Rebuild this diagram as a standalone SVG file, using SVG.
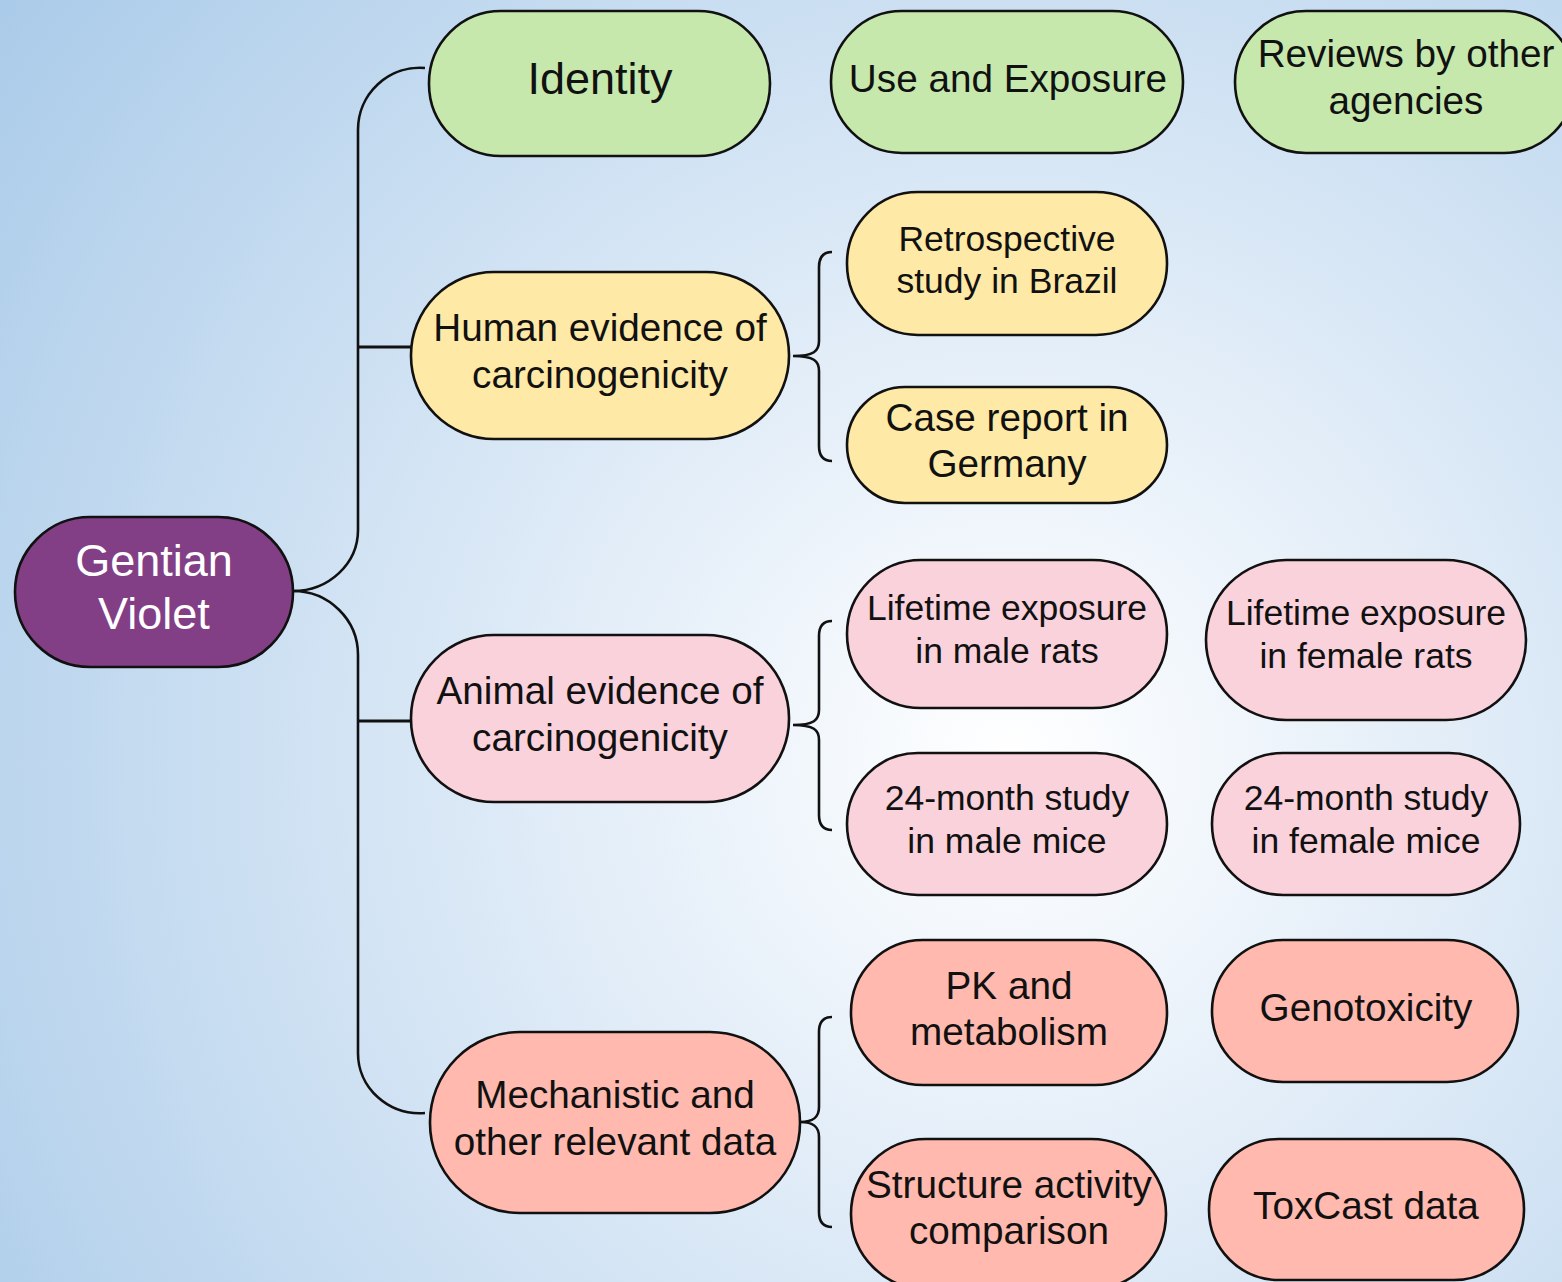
<svg xmlns="http://www.w3.org/2000/svg" width="1562" height="1282" viewBox="0 0 1562 1282">
<defs>
<radialGradient id="bg" gradientUnits="userSpaceOnUse" cx="1010" cy="760" r="1260">
<stop offset="0" stop-color="#ffffff"/>
<stop offset="0.35" stop-color="#e2edf8"/>
<stop offset="1" stop-color="#aacbe9"/>
</radialGradient>
<style>
.n{stroke:#111;stroke-width:2.6}
.g{fill:#c6e8ad}.y{fill:#ffe9a6}.p{fill:#fad2dc}.s{fill:#ffb9ae}.v{fill:#823f86}
text{font-family:"Liberation Sans",Arial,sans-serif;text-anchor:middle;fill:#111}
.t44{font-size:45px}.t38{font-size:38.7px}.t35{font-size:35.5px}.t34{font-size:35.5px}
.w{fill:#ffffff}
.c{fill:none;stroke:#111;stroke-width:2.6}
.b{fill:none;stroke:#111;stroke-width:3.2}
</style>
</defs>
<rect width="1562" height="1282" fill="url(#bg)"/>
<g id="connectors">
<path class="c" d="M293,591 A65,61 0 0 0 358,530 L358,130 A62,62 0 0 1 425,68"/>
<path class="c" d="M293,591 A65,64 0 0 1 358,655 L358,1053 A62,60 0 0 0 425,1113"/>
<path class="b" d="M358,347 L412,347"/>
<path class="b" d="M358,721 L412,721"/>
<path class="c" d="M832,252 C823,252 819,257 819,267 L819,341 C819,351 814,356 793,356 C814,356 819,361 819,371 L819,446 C819,456 823,461 832,461"/>
<path class="c" d="M832,621 C823,621 819,626 819,636 L819,710 C819,720 814,725 793,725 C814,725 819,730 819,740 L819,815 C819,825 823,830 832,830"/>
<path class="c" d="M832,1017 C823,1017 819,1022 819,1032 L819,1107 C819,1117 814,1122 800,1122 C814,1122 819,1127 819,1137 L819,1212 C819,1222 823,1227 832,1227"/>
</g>
<g id="gentian">
<rect class="n v" x="15" y="517" width="278" height="150" rx="75"/>
<text class="t44 w" x="154" y="576">Gentian</text>
<text class="t44 w" x="154" y="629">Violet</text>
</g>
<g id="identity">
<rect class="n g" x="429" y="11" width="341" height="145" rx="72"/>
<text class="t44" x="600" y="94">Identity</text>
</g>
<g id="use-exposure">
<rect class="n g" x="831" y="11" width="352" height="142" rx="71"/>
<text class="t38" x="1008" y="92">Use and Exposure</text>
</g>
<g id="reviews">
<rect class="n g" x="1235" y="11" width="340" height="142" rx="71"/>
<text class="t38" x="1406" y="67">Reviews by other</text>
<text class="t38" x="1406" y="114">agencies</text>
</g>
<g id="human">
<rect class="n y" x="411" y="272" width="378" height="167" rx="83"/>
<text class="t38" x="600" y="341">Human evidence of</text>
<text class="t38" x="600" y="388">carcinogenicity</text>
</g>
<g id="brazil">
<rect class="n y" x="847" y="192" width="320" height="143" rx="71"/>
<text class="t35" x="1007" y="251">Retrospective</text>
<text class="t35" x="1007" y="293">study in Brazil</text>
</g>
<g id="germany">
<rect class="n y" x="847" y="387" width="320" height="116" rx="58"/>
<text class="t38" x="1007" y="431">Case report in</text>
<text class="t38" x="1007" y="477">Germany</text>
</g>
<g id="animal">
<rect class="n p" x="411" y="635" width="378" height="167" rx="83"/>
<text class="t38" x="600" y="704">Animal evidence of</text>
<text class="t38" x="600" y="751">carcinogenicity</text>
</g>
<g id="male-rats">
<rect class="n p" x="847" y="560" width="320" height="148" rx="74"/>
<text class="t34" x="1007" y="620">Lifetime exposure</text>
<text class="t34" x="1007" y="663">in male rats</text>
</g>
<g id="female-rats">
<rect class="n p" x="1206" y="560" width="320" height="160" rx="80"/>
<text class="t34" x="1366" y="625">Lifetime exposure</text>
<text class="t34" x="1366" y="668">in female rats</text>
</g>
<g id="male-mice">
<rect class="n p" x="847" y="753" width="320" height="142" rx="71"/>
<text class="t34" x="1007" y="810">24-month study</text>
<text class="t34" x="1007" y="853">in male mice</text>
</g>
<g id="female-mice">
<rect class="n p" x="1212" y="753" width="308" height="142" rx="71"/>
<text class="t34" x="1366" y="810">24-month study</text>
<text class="t34" x="1366" y="853">in female mice</text>
</g>
<g id="mechanistic">
<rect class="n s" x="430" y="1032" width="370" height="181" rx="90"/>
<text class="t38" x="615" y="1108">Mechanistic and</text>
<text class="t38" x="615" y="1155">other relevant data</text>
</g>
<g id="pk">
<rect class="n s" x="851" y="940" width="316" height="145" rx="72"/>
<text class="t38" x="1009" y="999">PK and</text>
<text class="t38" x="1009" y="1045">metabolism</text>
</g>
<g id="genotoxicity">
<rect class="n s" x="1212" y="940" width="306" height="142" rx="71"/>
<text class="t38" x="1366" y="1021">Genotoxicity</text>
</g>
<g id="sar">
<rect class="n s" x="851" y="1139" width="315" height="150" rx="75"/>
<text class="t38" x="1009" y="1198">Structure activity</text>
<text class="t38" x="1009" y="1244">comparison</text>
</g>
<g id="toxcast">
<rect class="n s" x="1209" y="1139" width="315" height="141" rx="70"/>
<text class="t38" x="1366" y="1219">ToxCast data</text>
</g>
</svg>
